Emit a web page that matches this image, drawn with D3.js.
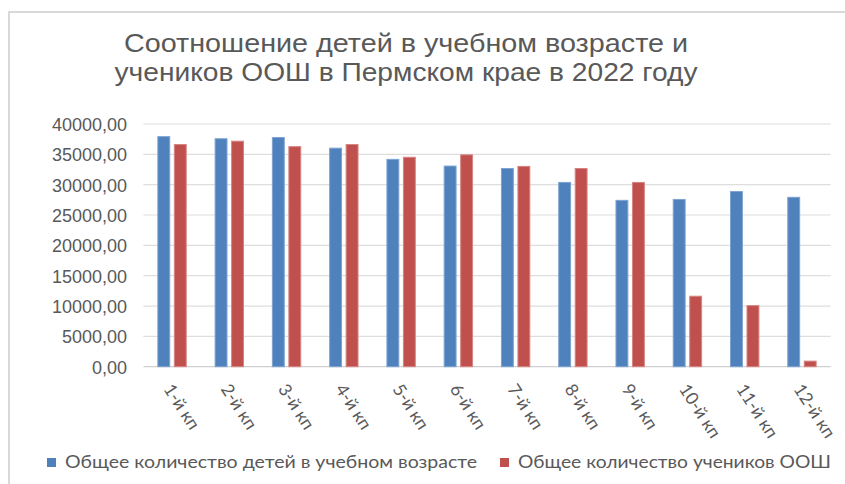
<!DOCTYPE html>
<html>
<head>
<meta charset="utf-8">
<script src="https://cdn.jsdelivr.net/npm/d3@7"></script>
<style>
  html, body { margin: 0; padding: 0; background: #fff; }
  svg { display: block; }
</style>
</head>
<body>
<svg id="chart" width="845" height="484"></svg>
<script>
const titleLines = ["Соотношение детей в учебном возрасте и", "учеников ООШ в Пермском крае в 2022 году"];
const categories = ["1-й кп","2-й кп","3-й кп","4-й кп","5-й кп","6-й кп","7-й кп","8-й кп","9-й кп","10-й кп","11-й кп","12-й кп"];
const seriesNames = ["Общее количество детей в учебном возрасте", "Общее количество учеников ООШ"];
const childrenValues = [38000, 37650, 37850, 36100, 34250, 33150, 32750, 30450, 27500, 27650, 28950, 28000];
const pupilsValues   = [36700, 37250, 36350, 36700, 34600, 35000, 33100, 32750, 30450, 11700, 10150, 1000];
const yTicks = [0, 5000, 10000, 15000, 20000, 25000, 30000, 35000, 40000];
const colors = ["#4F81BD", "#C0504D"];
const strokeColors = ["#7EA3D1", "#D68582"];

const svg = d3.select("#chart");

// chart border
svg.append("rect").attr("x", 9).attr("y", 12).attr("width", 845).attr("height", 480)
  .attr("fill", "#fff").attr("stroke", "#d9d9d9").attr("stroke-width", 2);

// title
const titleWidths = [564, 583];
svg.append("g").selectAll("text").data(titleLines).join("text")
  .attr("x", 406).attr("y", (d, i) => 52 + i * 28.5)
  .attr("text-anchor", "middle")
  .attr("font-family", "Liberation Sans, Arial, sans-serif")
  .attr("font-size", 26.5)
  .attr("fill", "#595959")
  .attr("textLength", (d, i) => titleWidths[i])
  .attr("lengthAdjust", "spacingAndGlyphs")
  .text(d => d);

const plotLeft = 143.4, plotRight = 830.6, plotTop = 124, plotBottom = 366.7;

const y = d3.scaleLinear().domain([0, 40000]).range([plotBottom, plotTop]);
const x0 = d3.scaleBand().domain(categories).range([plotLeft, plotRight])
  .paddingInner(0.487).paddingOuter(0.2435);
const x1 = d3.scaleBand().domain([0, 1]).range([0, x0.bandwidth()]).paddingInner(0.218);

// gridlines
svg.append("g").selectAll("line").data(yTicks).join("line")
  .attr("x1", plotLeft).attr("x2", plotRight)
  .attr("y1", d => y(d)).attr("y2", d => y(d))
  .attr("stroke", d => d === 0 ? "#d0d0d0" : "#dedede").attr("stroke-width", 1.2);

// y axis labels
const fmt = v => d3.format(".2f")(v).replace(".", ",");
const yAxis = d3.axisLeft(y).tickValues(yTicks).tickFormat(fmt).tickSize(0).tickPadding(0);
const yg = svg.append("g").attr("transform", "translate(127,0)").call(yAxis);
yg.select(".domain").remove();
yg.selectAll("text")
  .attr("font-family", "Liberation Sans, Arial, sans-serif")
  .attr("font-size", 18).attr("fill", "#595959").attr("dy", "0.36em");

// bars
const data = categories.map((c, i) => ({ c, vals: [childrenValues[i], pupilsValues[i]] }));
const groups = svg.append("g").selectAll("g").data(data).join("g")
  .attr("transform", d => `translate(${x0(d.c)},0)`);
groups.selectAll("rect").data(d => d.vals.map((v, k) => ({ v, k }))).join("rect")
  .attr("x", d => x1(d.k) + 0.5)
  .attr("width", x1.bandwidth() - 1)
  .attr("y", d => y(d.v) + 0.5)
  .attr("height", d => Math.max(0, plotBottom - y(d.v) - 0.5))
  .attr("fill", d => colors[d.k])
  .attr("stroke", d => strokeColors[d.k])
  .attr("stroke-width", 1);

// x labels (rotated)
const xg = svg.append("g");
xg.selectAll("text").data(categories).join("text")
  .attr("transform", d => {
    const cx = x0(d) + x0.bandwidth() / 2;
    return `translate(${cx - 9},${389}) rotate(57)`;
  })
  .attr("font-family", "Lato, 'Open Sans', sans-serif")
  .attr("font-size", 17.5)
  .attr("fill", "#595959")
  .text(d => d);

// legend
const legendItems = [
  { sx: 47, tx: 65, w: 412 },
  { sx: 500, tx: 518, w: 313 }
];
const lg = svg.append("g");
lg.selectAll("rect").data(legendItems).join("rect")
  .attr("x", d => d.sx).attr("y", 458).attr("width", 9).attr("height", 9)
  .attr("fill", (d, i) => colors[i]);
lg.selectAll("text").data(legendItems).join("text")
  .attr("x", d => d.tx).attr("y", 468)
  .attr("font-family", "Lato, 'Open Sans', sans-serif")
  .attr("font-size", 17.5)
  .attr("fill", "#595959")
  .attr("textLength", d => d.w)
  .attr("lengthAdjust", "spacingAndGlyphs")
  .text((d, i) => seriesNames[i]);
</script>
</body>
</html>
